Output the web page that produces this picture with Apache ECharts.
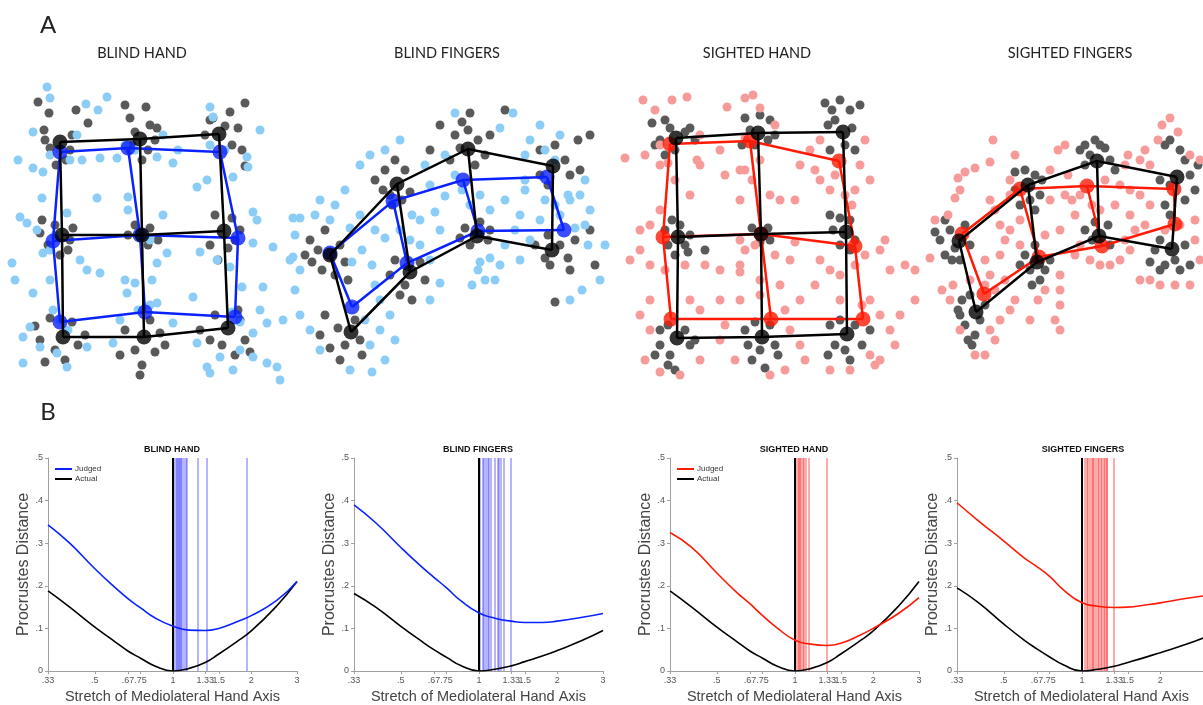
<!DOCTYPE html>
<html>
<head>
<meta charset="utf-8">
<script src="https://cdn.jsdelivr.net/npm/echarts@6/dist/echarts.min.js"></script>
<style>
html,body{margin:0;padding:0;background:#fff}
#main{width:1203px;height:705px}
</style>
</head>
<body>
<div id="main"></div>
<script>
// ---------- panel B data ----------
var stretch = [0.33, 0.4, 0.5, 0.6, 0.67, 0.75, 0.85, 1, 1.15, 1.33, 1.5, 1.75, 2, 2.5, 3];
var xTicks = [0.33, 0.5, 0.67, 0.75, 1, 1.33, 1.5, 2, 3];
var xTickLabels = ['.33', '.5', '.67', '.75', '1', '1.33', '1.5', '2', '3'];

var blindHandJudgedCurve = [0.343, 0.30, 0.24, 0.195, 0.17, 0.148, 0.125, 0.105, 0.096, 0.095, 0.1, 0.115, 0.13, 0.165, 0.21];
var handActualCurve = [0.188, 0.15, 0.103, 0.068, 0.047, 0.03, 0.012, 0, 0.006, 0.02, 0.04, 0.068, 0.094, 0.152, 0.21];
var blindFingersJudgedCurve = [0.39, 0.348, 0.29, 0.245, 0.22, 0.195, 0.165, 0.136, 0.124, 0.117, 0.114, 0.114, 0.117, 0.126, 0.135];
var blindFingersActualCurve = [0.182, 0.15, 0.105, 0.07, 0.05, 0.032, 0.013, 0, 0.004, 0.012, 0.022, 0.035, 0.048, 0.072, 0.095];
var sightedHandJudgedCurve = [0.325, 0.29, 0.23, 0.183, 0.158, 0.13, 0.102, 0.072, 0.063, 0.06, 0.065, 0.082, 0.1, 0.135, 0.172];
var sightedFingersJudgedCurve = [0.395, 0.352, 0.305, 0.265, 0.245, 0.222, 0.19, 0.16, 0.152, 0.149, 0.15, 0.155, 0.16, 0.17, 0.177];
var sightedFingersActualCurve = [0.195, 0.16, 0.11, 0.072, 0.052, 0.033, 0.014, 0, 0.004, 0.011, 0.02, 0.032, 0.043, 0.062, 0.08];

// best-fitting stretch of each participant (vertical lines)
var blindHandFits = [1.01, 1.02, 1.03, 1.04, 1.05, 1.06, 1.07, 1.085, 1.1, 1.117, 1.125, 1.24, 1.35, 1.92];
var blindFingersFits = [1.015, 1.03, 1.045, 1.06, 1.077, 1.093, 1.11, 1.15, 1.18, 1.19, 1.21, 1.24, 1.32];
var sightedHandFits = [1.01, 1.02, 1.03, 1.04, 1.05, 1.07, 1.08, 1.1, 1.125, 1.32];
var sightedFingersFits = [1.005, 1.024, 1.039, 1.054, 1.07, 1.086, 1.1, 1.115, 1.13, 1.146, 1.16, 1.176, 1.19, 1.206, 1.22, 1.235, 1.25, 1.32];

// ---------- panel A data (image units, y down) ----------
var blindHandActual = [[60,142],[140,139],[219,134],[62,235],[142,235],[224,231],[63,337],[144,337],[228,328]];
var blindHandJudged = [[60,152],[128,148],[220,152],[53,241],[140,235],[238,238],[60,322],[145,312],[235,317]];
var blindFingersActual = [[330,255],[397,184],[468,149],[553,166],[351,332],[410,272],[477,236],[552,250]];
var blindFingersJudged = [[330,253],[393,201],[463,180],[547,177],[352,307],[407,263],[478,231],[564,230]];
var sightedHandActual = [[676,138],[758,133],[843,132],[678,237],[761,234],[846,232],[677,338],[762,337],[847,334]];
var sightedHandJudged = [[670,144],[750,141],[839,161],[663,237],[761,234],[855,246],[671,319],[771,319],[863,319]];
var sightedFingersActual = [[959,241],[1028,185],[1097,161],[1177,177],[976,312],[1037,262],[1099,236],[1172,249]];
var sightedFingersJudged = [[962,234],[1020,189],[1087,186],[1174,189],[984,294],[1039,257],[1102,246],[1175,224]];

var blindHandGray = [[38,102],[49,113],[76,110],[88,123],[45,140],[50,148],[70,150],[66,160],[56,165],[44,130],[72,135],
  [125,105],[146,107],[130,118],[150,125],[135,132],[155,140],[148,150],[130,150],[142,160],[132,145],[157,128],
  [245,103],[230,112],[210,120],[225,126],[238,128],[205,135],[232,145],[242,150],[213,118],[245,166],
  [42,220],[55,225],[70,240],[68,250],[48,245],[60,255],[73,228],[40,233],
  [135,225],[150,228],[148,245],[128,235],[158,240],
  [215,215],[232,218],[240,230],[210,245],[228,248],[218,260],[235,240],
  [50,318],[72,322],[40,340],[55,350],[78,345],[65,360],[45,362],[85,335],[35,326],
  [125,330],[150,320],[160,333],[135,350],[155,352],[142,365],[120,355],[165,345],[140,375],
  [215,315],[240,320],[245,340],[222,345],[235,355],[210,340],[250,352],[238,310],[200,330]];
var blindHandLight = [[47,87],[50,98],[86,104],[107,97],[98,110],[33,132],[77,135],[82,160],[100,158],[117,158],[18,160],[33,168],[43,172],
  [163,135],[178,150],[157,157],[173,163],[210,107],[213,117],[260,130],[247,157],[197,187],[207,180],[233,177],[248,167],
  [42,198],[67,213],[97,198],[128,197],[128,210],[163,215],[20,217],[27,223],[37,230],[12,263],[43,253],[80,260],[87,270],
  [100,273],[125,280],[135,283],[152,280],[167,253],[157,263],[200,252],[217,260],[253,212],[257,220],[253,243],[273,247],
  [293,218],[293,257],[263,287],[242,287],[230,267],[15,280],[33,293],[50,280],[53,310],[30,327],[23,337],[40,347],[57,353],
  [87,347],[113,343],[120,320],[127,293],[157,303],[173,323],[193,297],[197,343],[207,367],[210,373],[220,357],[233,370],
  [253,357],[267,363],[277,367],[280,380],[260,310],[267,323],[253,333],[240,350],[67,367],[23,363],
  [60,150],[50,155],[70,160],[55,235],[50,250],[135,150],[125,145],[225,150],[210,145],[140,232],[150,240],[138,310],
  [150,305],[232,312],[240,322],[60,320],[68,330]];

var blindFingersGray = [[310,240],[318,250],[312,262],[322,270],[340,245],[345,262],[335,275],[305,255],[325,230],[348,280],
  [385,170],[395,160],[405,170],[383,190],[410,192],[392,205],[375,180],[402,200],[390,195],
  [455,135],[468,130],[478,140],[460,148],[485,155],[450,160],[475,165],[490,135],[462,122],
  [540,150],[555,145],[565,160],[540,175],[570,175],[548,185],[578,140],[590,135],[580,170],
  [325,315],[338,328],[345,345],[330,348],[360,340],[355,320],[320,335],[340,360],[362,355],
  [395,260],[405,285],[420,262],[400,295],[425,280],[390,275],[412,300],
  [465,228],[480,222],[488,240],[470,245],[490,230],[460,238],
  [535,245],[545,258],[560,245],[568,258],[550,265],[575,240],[570,270],[548,235],[590,230],
  [555,302],[505,110],[470,113],[440,125],[430,150],[595,265]];
var blindFingersLight = [[455,113],[513,113],[500,128],[400,140],[385,150],[370,155],[360,165],[345,190],[335,205],[320,200],
  [300,218],[295,235],[315,215],[330,220],[350,228],[360,215],[375,230],[385,238],[362,250],[372,265],[352,262],[375,285],
  [380,300],[390,315],[380,330],[365,320],[370,345],[395,340],[385,360],[372,372],[350,370],[320,350],[310,330],[300,315],
  [295,290],[300,270],[290,260],[283,320],[430,300],[440,283],[430,260],[420,245],[440,230],[435,212],[420,220],[445,196],
  [430,185],[455,175],[462,190],[470,205],[480,195],[490,210],[505,200],[520,215],[525,190],[525,180],[515,230],[505,245],
  [490,258],[480,262],[478,270],[485,280],[472,285],[495,280],[500,265],[530,240],[520,260],[540,220],[555,205],[560,215],
  [545,200],[570,200],[585,180],[590,210],[585,225],[588,245],[575,228],[600,280],[605,245],[568,195],[555,160],[560,135],
  [545,150],[530,140],[525,155],[580,195],[582,290],[570,300],[540,125],[445,155],[425,165],[412,215],[400,230],[410,240]];

var sightedHandGray = [[652,123],[665,120],[660,140],[670,128],[685,132],[690,128],[675,150],[665,155],[655,145],[695,140],
  [745,118],[760,115],[770,120],[750,130],[768,140],[742,145],[775,135],[755,145],
  [825,103],[832,110],[840,100],[850,110],[835,120],[828,125],[852,128],[845,145],[830,150],[855,150],[860,105],
  [672,220],[680,225],[668,245],[685,245],[675,255],[690,235],[665,230],[688,252],[705,250],
  [752,228],[768,228],[760,242],[770,240],
  [830,215],[840,218],[850,220],[833,230],[855,240],[840,245],[850,250],
  [660,330],[668,325],[685,330],[660,345],[690,345],[670,355],[655,355],[695,340],[668,365],[675,370],
  [745,330],[755,322],[770,325],[760,350],[748,345],[775,345],[752,360],[778,355],[765,368],
  [830,325],[840,320],[855,325],[835,345],[862,345],[845,350],[828,355],[850,360],[870,330]];
var sightedHandLight = [[643,100],[655,110],[672,100],[687,97],[727,107],[745,98],[753,95],[760,108],[775,125],[745,138],
  [700,135],[720,150],[700,165],[725,175],[740,170],[697,160],[745,170],[752,180],[760,160],[800,165],[810,150],[820,140],
  [815,170],[835,175],[860,165],[865,140],[870,180],[855,190],[845,195],[852,205],[830,190],[820,180],[780,200],[740,200],
  [625,158],[645,155],[660,165],[675,180],[690,195],[660,210],[650,225],[640,230],[640,250],[630,260],[650,265],[665,270],
  [685,265],[705,265],[720,270],[740,265],[745,250],[740,240],[755,245],[775,255],[790,260],[795,242],[820,260],[830,270],
  [840,275],[855,265],[865,255],[880,250],[885,240],[890,270],[905,265],[915,270],[840,300],[862,305],[870,300],[880,315],
  [900,315],[915,300],[890,330],[895,345],[870,355],[875,365],[880,360],[850,370],[830,370],[805,360],[800,345],[790,330],
  [785,310],[800,300],[815,285],[780,285],[760,280],[760,295],[740,300],[720,300],[700,310],[690,300],[650,300],[640,315],
  [650,330],[645,360],[660,372],[680,375],[700,360],[720,340],[725,325],[735,360],[770,375],[785,370],[740,272],[770,195],
  [795,200],[660,145],[668,163]];

var sightedFingersGray = [[945,220],[950,230],[940,240],[955,248],[945,255],[965,225],[970,245],[952,260],[960,260],[935,232],
  [1015,172],[1025,170],[1035,175],[1015,190],[1040,195],[1030,200],[1020,205],[1042,180],[1035,210],
  [1085,145],[1095,140],[1105,148],[1090,155],[1110,160],[1085,165],[1115,170],[1100,145],[1080,150],
  [1165,145],[1170,140],[1180,150],[1185,160],[1190,175],[1170,185],[1160,180],[1195,190],[1165,205],[1185,200],[1170,215],[1198,165],
  [962,300],[970,295],[958,310],[980,320],[965,325],[975,335],[968,340],[960,315],[985,305],[972,345],
  [1025,255],[1030,270],[1045,270],[1040,280],[1035,245],[1050,260],[1032,285],[1020,265],
  [1085,230],[1092,240],[1108,225],[1095,222],[1110,245],
  [1155,250],[1160,240],[1175,260],[1185,245],[1165,265],[1190,265],[1180,270],[1150,262],[1160,270]];
var sightedFingersLight = [[930,258],[935,220],[948,215],[955,198],[960,190],[958,178],[965,172],[975,168],[990,162],[993,140],
  [1015,155],[1010,180],[990,200],[995,210],[1000,225],[1010,230],[1020,220],[1005,240],[1000,255],[985,260],[990,275],
  [985,285],[995,290],[1005,280],[1015,300],[1010,310],[1000,320],[990,330],[995,340],[985,355],[975,355],[960,330],
  [950,300],[942,290],[953,285],[1045,235],[1050,200],[1065,195],[1068,175],[1072,200],[1075,215],[1080,195],[1060,230],
  [1075,255],[1080,245],[1090,260],[1100,265],[1110,265],[1120,260],[1130,250],[1125,240],[1135,230],[1145,225],[1150,205],
  [1140,195],[1130,215],[1115,205],[1120,185],[1125,165],[1128,155],[1140,160],[1150,165],[1145,150],[1158,140],[1162,125],
  [1170,118],[1178,132],[1190,155],[1200,160],[1195,220],[1195,240],[1200,260],[1190,285],[1175,285],[1160,285],[1150,280],
  [1140,280],[1060,275],[1060,290],[1060,305],[1055,320],[1060,330],[1038,300],[1030,320],[1045,290],[1020,245],[1010,195],
  [1050,170],[1058,150],[1065,145],[1105,180],[1092,205],[1100,210],[1165,230],[1180,225],[970,280],[1130,190]];

var BLUE = '#0a22ff', RED = '#ff1a05', GRAY = '#5a5a5a', LIGHTBLUE = '#8ccdf7', PINK = '#f79a9a';

// grid edges (rows, then columns) from row-major nodes
function gridPaths(nodes, rows, cols) {
  var paths = [];
  for (var r = 0; r < rows; r++) paths.push({ coords: nodes.slice(r * cols, r * cols + cols) });
  for (var c = 0; c < cols; c++) {
    var col = [];
    for (var k = 0; k < rows; k++) col.push(nodes[k * cols + c]);
    paths.push({ coords: col });
  }
  return paths;
}

var AX = 4; // index of panel A axes
function dots(data, color) {
  return { type: 'scatter', xAxisIndex: AX, yAxisIndex: AX, data: data, symbolSize: 9, silent: true,
    itemStyle: { color: color, opacity: 1 }, z: 2 };
}
function frame(nodes, rows, cols, color, z) {
  return [
    { type: 'lines', coordinateSystem: 'cartesian2d', xAxisIndex: AX, yAxisIndex: AX, polyline: true, silent: true,
      data: gridPaths(nodes, rows, cols), lineStyle: { color: color, width: 2.5, opacity: 1 }, z: z },
    { type: 'scatter', xAxisIndex: AX, yAxisIndex: AX, data: nodes, symbolSize: 15, silent: true,
      itemStyle: { color: color }, z: z + 1 }
  ];
}

// ---------- panel B helpers ----------
var gridLefts = [48, 354, 670, 957];
var fmtY = function (v) { var r = Math.round(v * 10) / 10; return r === 0 ? '0' : String(r).replace(/^0/, ''); };
var fmtX = function (v) {
  var best = 0;
  for (var i = 1; i < xTicks.length; i++) if (Math.abs(xTicks[i] - v) < Math.abs(xTicks[best] - v)) best = i;
  return xTickLabels[best];
};
function curve(idx, name, vals, color) {
  return { type: 'line', name: name, xAxisIndex: idx, yAxisIndex: idx, smooth: true, symbol: 'none',
    data: stretch.map(function (s, i) { return [s, vals[i]]; }),
    lineStyle: { color: color, width: 1.6 }, itemStyle: { color: color }, z: 5 };
}
function fitLines(idx, fits, rgba) {
  var lines = fits.map(function (v) { return { xAxis: v, lineStyle: { color: rgba, width: 1.6 } }; });
  lines.push({ xAxis: 1, lineStyle: { color: '#000', width: 2 } });
  return { type: 'line', xAxisIndex: idx, yAxisIndex: idx, data: [[1, 0]], symbol: 'none', z: 1, silent: true,
    markLine: { silent: true, symbol: 'none', label: { show: false }, animation: false,
      lineStyle: { type: 'solid' }, data: lines } };
}

var grids = gridLefts.map(function (l) {
  return { left: l, top: 458, width: 249, height: 213, outerBoundsMode: 'none', containLabel: false };
});
grids.push({ left: 0, top: 0, width: 1203, height: 400, outerBoundsMode: 'none' });

var xAxes = gridLefts.map(function (l, i) {
  return { gridIndex: i, type: 'log', logBase: 10, min: 0.33, max: 3,
    axisLine: { show: true, lineStyle: { color: '#a0a0a0', width: 1 } },
    axisTick: { show: true, customValues: xTicks, length: 3, lineStyle: { color: '#a0a0a0' } },
    axisLabel: { customValues: xTicks, formatter: fmtX, fontSize: 9, color: '#555', margin: 5, hideOverlap: false,
      fontFamily: 'Liberation Sans' },
    splitLine: { show: false }, minorTick: { show: false },
    name: 'Stretch of Mediolateral Hand Axis', nameLocation: 'middle', nameGap: 18,
    nameTextStyle: { fontSize: 14.5, color: '#444', fontFamily: 'Liberation Sans' } };
});
xAxes.push({ gridIndex: 4, type: 'value', min: 0, max: 1203, show: false });

var yAxes = gridLefts.map(function (l, i) {
  return { gridIndex: i, type: 'value', min: 0, max: 0.5, interval: 0.1,
    axisLine: { show: true, lineStyle: { color: '#a0a0a0', width: 1 } },
    axisTick: { show: true, length: 3, lineStyle: { color: '#a0a0a0' } },
    axisLabel: { formatter: fmtY, fontSize: 9, color: '#555', margin: 5, fontFamily: 'Liberation Sans' },
    splitLine: { show: false },
    name: 'Procrustes Distance', nameLocation: 'middle', nameGap: 15, nameRotate: 90,
    nameTextStyle: { fontSize: 16, color: '#444', fontFamily: 'Liberation Sans' } };
});
yAxes.push({ gridIndex: 4, type: 'value', min: 0, max: 400, inverse: true, show: false });

var series = [
  fitLines(0, blindHandFits, 'rgba(30,30,255,0.42)'),
  curve(0, 'Actual|bh', handActualCurve, '#000'),
  curve(0, 'Judged|bh', blindHandJudgedCurve, BLUE),
  fitLines(1, blindFingersFits, 'rgba(30,30,255,0.42)'),
  curve(1, 'Actual|bf', blindFingersActualCurve, '#000'),
  curve(1, 'Judged|bf', blindFingersJudgedCurve, BLUE),
  fitLines(2, sightedHandFits, 'rgba(255,20,20,0.45)'),
  curve(2, 'Actual|sh', handActualCurve, '#000'),
  curve(2, 'Judged|sh', sightedHandJudgedCurve, RED),
  fitLines(3, sightedFingersFits, 'rgba(255,20,20,0.45)'),
  curve(3, 'Actual|sf', sightedFingersActualCurve, '#000'),
  curve(3, 'Judged|sf', sightedFingersJudgedCurve, RED),
  dots(blindHandGray, GRAY), dots(blindHandLight, LIGHTBLUE),
  dots(blindFingersGray, GRAY), dots(blindFingersLight, LIGHTBLUE),
  dots(sightedHandGray, GRAY), dots(sightedHandLight, PINK),
  dots(sightedFingersGray, GRAY), dots(sightedFingersLight, PINK)
]
  .concat(frame(blindHandJudged, 3, 3, BLUE, 3)).concat(frame(blindHandActual, 3, 3, '#000', 5))
  .concat(frame(blindFingersJudged, 2, 4, BLUE, 3)).concat(frame(blindFingersActual, 2, 4, '#000', 5))
  .concat(frame(sightedHandJudged, 3, 3, RED, 3)).concat(frame(sightedHandActual, 3, 3, '#000', 5))
  .concat(frame(sightedFingersJudged, 2, 4, RED, 3)).concat(frame(sightedFingersActual, 2, 4, '#000', 5));

function legendAt(left, tag) {
  return { data: ['Judged|' + tag, 'Actual|' + tag], left: left, top: 464, orient: 'vertical', icon: 'rect',
    itemWidth: 17, itemHeight: 2, itemGap: 0, padding: 0, selectedMode: false,
    formatter: function (n) { return n.split('|')[0]; },
    textStyle: { fontSize: 8, color: '#333', lineHeight: 10, padding: [0, 0, 0, -2], fontFamily: 'Liberation Sans' } };
}

function label(text, x, y, size, weight, family, color) {
  return { type: 'text', x: x, y: y, silent: true, z: 50,
    style: { text: text, align: 'center', verticalAlign: 'middle', fill: color || '#222',
      font: (weight || 'normal') + ' ' + size + 'px ' + (family || 'Lato') } };
}

var chart = echarts.init(document.getElementById('main'), null, { renderer: 'canvas' });
chart.setOption({
  backgroundColor: '#fff',
  animation: false,
  grid: grids,
  xAxis: xAxes,
  yAxis: yAxes,
  legend: [legendAt(55, 'bh'), legendAt(677, 'sh')],
  graphic: [
    label('A', 48, 25, 24, 'normal', 'Lato', '#222'),
    label('B', 48, 412, 24, 'normal', 'Lato', '#222'),
    label('BLIND HAND', 142, 53, 14.5, 'normal', 'Lato', '#222'),
    label('BLIND FINGERS', 447, 53, 14.5, 'normal', 'Lato', '#222'),
    label('SIGHTED HAND', 757, 53, 14.5, 'normal', 'Lato', '#222'),
    label('SIGHTED FINGERS', 1070, 53, 14.5, 'normal', 'Lato', '#222'),
    label('BLIND HAND', 172, 450, 9, 'bold', 'Liberation Sans', '#111'),
    label('BLIND FINGERS', 478, 450, 9, 'bold', 'Liberation Sans', '#111'),
    label('SIGHTED HAND', 794, 450, 9, 'bold', 'Liberation Sans', '#111'),
    label('SIGHTED FINGERS', 1083, 450, 9, 'bold', 'Liberation Sans', '#111')
  ],
  series: series
});
</script>
</body>
</html>
